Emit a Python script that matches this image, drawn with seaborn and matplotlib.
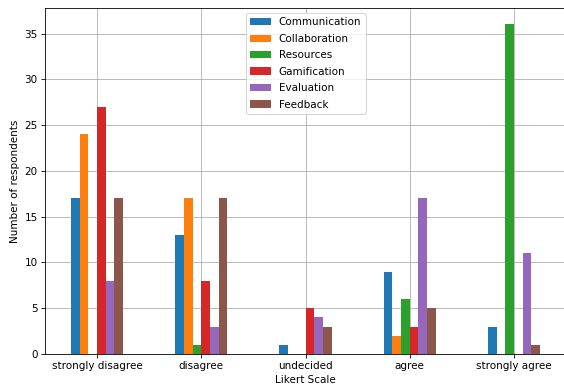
import pandas as pd
import seaborn as sns
import matplotlib
matplotlib.use("Agg")
import matplotlib.pyplot as plt

likert = ["strongly disagree", "disagree", "undecided", "agree", "strongly agree"]
categories = ["Communication", "Collaboration", "Resources", "Gamification", "Evaluation", "Feedback"]

communication = [17, 13, 1, 9, 3]
collaboration = [24, 17, 0, 2, 0]
resources = [0, 1, 0, 6, 36]
gamification = [27, 8, 5, 3, 0]
evaluation = [8, 3, 4, 17, 11]
feedback = [17, 17, 3, 5, 1]

series = [communication, collaboration, resources, gamification, evaluation, feedback]

rows = []
for name, vals in zip(categories, series):
    for lk, v in zip(likert, vals):
        rows.append({"Likert Scale": lk, "category": name, "count": v})
df = pd.DataFrame(rows)

# the original was drawn bigger and shrunk, so render at 75 dpi
fig = plt.figure(figsize=(564 / 75, 387 / 75), dpi=75)
ax = fig.add_axes([45 / 564, 33 / 387, 521 / 564, 346 / 387])

sns.barplot(data=df, x="Likert Scale", y="count", hue="category",
            order=likert, hue_order=categories, palette="tab10",
            width=0.5, saturation=1, linewidth=0, ax=ax)

ax.set_xlim(-0.5, 4.5)
ax.set_ylim(0, 37.8)
ax.grid(True)
ax.set_axisbelow(True)
ax.set_ylabel("Number of respondents")
ax.set_xlabel("Likert Scale")
ax.legend(title=None, loc="upper center", labelspacing=0.62)

fig.savefig("out.png", dpi=75)
